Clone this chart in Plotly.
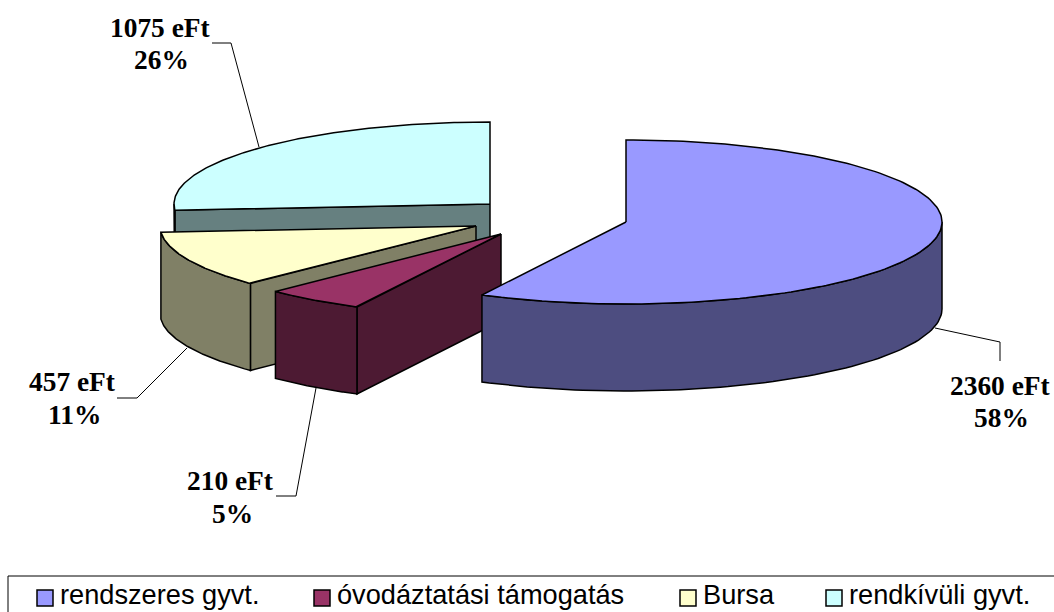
import numpy as np
import plotly.graph_objects as go

# ---- data ----
categories = ["rendszeres gyvt.", "óvodáztatási támogatás", "Bursa", "rendkívüli gyvt."]
values = [2360, 210, 457, 1075]
percent_labels = ["58%", "5%", "11%", "26%"]
unit = "eFt"

# ---- styles / projection ----
top_colors = ["#9999FF", "#993366", "#FFFFCC", "#CCFFFF"]
side_colors = ["#4D4D80", "#4D1A33", "#808066", "#668080"]
apexes = [(626, 222), (501, 234), (476, 226), (490, 204)]
RX, RY, DEPTH = 316, 82, 87
draw_order = [3, 2, 1, 0]
label_pos = [(999.5, 386, 418), (230, 481, 514), (72, 382, 415), (159.5, 28, 60)]
PERCENT_SHIFT = 2
leaders = [
    ([935, 1000, 1000], [328, 342, 361]),
    ([276, 296, 316], [496, 496, 388]),
    ([117, 137, 187], [398, 398, 348]),
    ([212, 231, 259], [43, 43, 147]),
]
swatch_x = [45, 322, 688, 834]
legend_text_x = [60, 337, 703, 849]
SWATCH_Y = 598
LEGEND_TEXT_Y = 597

fig = go.Figure()


def poly(xs, ys, fill):
    fig.add_trace(go.Scatter(
        x=list(xs) + [xs[0]], y=list(ys) + [ys[0]], mode="lines", fill="toself",
        fillcolor=fill, line=dict(color="#000000", width=1.5),
        hoverinfo="skip", showlegend=False))


total = sum(values)
edges = np.cumsum([0] + values) / total * 360.0


def rim(i, t):
    cx, cy = apexes[i]
    r = np.radians(t)
    return cx + RX * np.sin(r), cy - RY * np.cos(r)


for i in draw_order:
    a0, a1 = edges[i], edges[i + 1]
    cx, cy = apexes[i]
    # cut faces that turn towards the viewer
    if 180 < a0 < 360:
        rx, ry = rim(i, a0)
        poly([cx, float(rx), float(rx), cx], [cy, float(ry), float(ry) + DEPTH, cy + DEPTH], side_colors[i])
    if 0 < a1 < 180:
        rx, ry = rim(i, a1)
        poly([cx, float(rx), float(rx), cx], [cy, float(ry), float(ry) + DEPTH, cy + DEPTH], side_colors[i])
    # outer wall (front half only)
    lo, hi = max(a0, 90), min(a1, 270)
    if hi > lo:
        ts = np.linspace(lo, hi, 80)
        xs, ys = rim(i, ts)
        poly(list(xs) + list(xs[::-1]), list(ys) + list((ys + DEPTH)[::-1]), side_colors[i])
    # top face
    ts = np.linspace(a0, a1, 160)
    xs, ys = rim(i, ts)
    poly([cx] + list(xs), [cy] + list(ys), top_colors[i])

# leader lines
for lx, ly in leaders:
    fig.add_trace(go.Scatter(x=lx, y=ly, mode="lines", line=dict(color="#000000", width=1),
                             hoverinfo="skip", showlegend=False))

# legend swatches
fig.add_trace(go.Scatter(
    x=swatch_x, y=[SWATCH_Y] * 4, mode="markers",
    marker=dict(symbol="square", size=16, color=top_colors, line=dict(color="#000000", width=1.5)),
    hoverinfo="skip", showlegend=False))

# legend names
fig.add_trace(go.Scatter(
    x=legend_text_x, y=[LEGEND_TEXT_Y] * 4, mode="text", text=categories,
    textposition="middle right", cliponaxis=False,
    textfont=dict(family="Liberation Sans", size=27.2, color="#000000"),
    hoverinfo="skip", showlegend=False))

annotations = []
for i in range(4):
    lx, y1, y2 = label_pos[i]
    for txt, x, y in ((f"{values[i]} {unit}", lx, y1), (percent_labels[i], lx + PERCENT_SHIFT, y2)):
        annotations.append(dict(
            x=x, y=y, xref="x", yref="y", showarrow=False, text=f"<b>{txt}</b>",
            font=dict(family="Liberation Serif", size=27.4, color="#000000")))

fig.update_layout(
    width=1054, height=612, margin=dict(l=0, r=0, t=0, b=0),
    paper_bgcolor="#FFFFFF", plot_bgcolor="#FFFFFF", showlegend=False,
    xaxis=dict(range=[0, 1054], visible=False, fixedrange=True),
    yaxis=dict(range=[612, 0], visible=False, fixedrange=True),
    annotations=annotations,
    shapes=[dict(type="rect", xref="x", yref="y", x0=8, y0=576, x1=1070, y1=630,
                 line=dict(color="#000000", width=1), layer="below")],
)
fig.write_html("out.html", config={"displayModeBar": False},
               post_script="document.body.style.margin='0';document.body.style.overflow='hidden';")
